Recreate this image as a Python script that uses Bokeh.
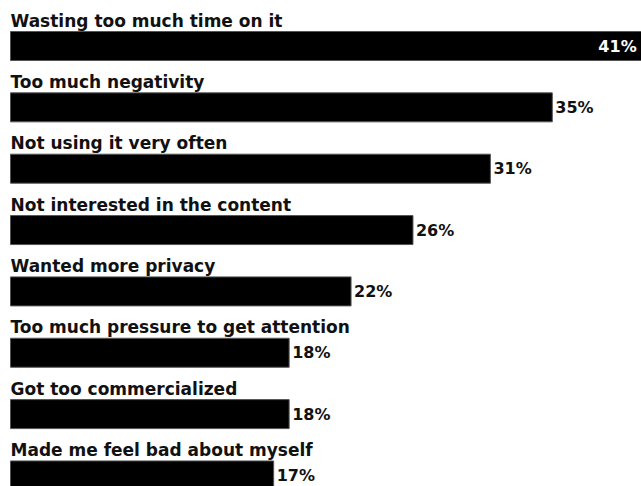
from bokeh.plotting import figure
from bokeh.models import Range1d, ColumnDataSource
from bokeh.core.properties import value
from bokeh.embed import file_html
from bokeh.resources import INLINE

categories = [
    "Wasting too much time on it",
    "Too much negativity",
    "Not using it very often",
    "Not interested in the content",
    "Wanted more privacy",
    "Too much pressure to get attention",
    "Got too commercialized",
    "Made me feel bad about myself",
]
values = [41, 35, 31, 26, 22, 18, 18, 17]
value_labels = ["41%", "35%", "31%", "26%", "22%", "18%", "18%", "17%"]

W, H = 641, 486
PX_PER_UNIT = 15.48
X0 = 10
ROW = 61.35
C0 = 45.5

idx = list(range(len(categories)))
p = figure(width=W, height=H, output_backend="svg", toolbar_location=None,
           x_range=Range1d(-X0 / PX_PER_UNIT, (W - X0) / PX_PER_UNIT),
           y_range=Range1d((H - C0) / ROW, -C0 / ROW),
           min_border=0, outline_line_color=None)
p.axis.visible = False
p.grid.visible = False
p.background_fill_color = "white"
p.border_fill_color = "white"

bar_h = 29 / ROW
src = ColumnDataSource(dict(y=idx, v=values, cat=categories, lab=value_labels,
                            ly=[i - bar_h / 2 - 11 / ROW for i in idx]))
p.hbar(y="y", right="v", left=0, height=bar_h, source=src,
       fill_color="black", line_color="#555555", line_width=1)

p.text(x=0, y="ly", text="cat", source=src, text_font=value("DejaVu Sans"),
       text_font_style="bold", text_font_size="17px", text_color="#111111",
       text_baseline="alphabetic", text_align="left")

out_src = ColumnDataSource(dict(x=[v + 3 / PX_PER_UNIT for v in values[1:]],
                                y=idx[1:], lab=value_labels[1:]))
p.text(x="x", y="y", text="lab", source=out_src, text_font=value("DejaVu Sans"),
       text_font_style="bold", text_font_size="16px", text_color="#111111",
       text_baseline="middle", text_align="left")

in_src = ColumnDataSource(dict(x=[values[0] - 0.55], y=[idx[0]], lab=[value_labels[0]]))
p.text(x="x", y="y", text="lab", source=in_src, text_font=value("DejaVu Sans"),
       text_font_style="bold", text_font_size="16px", text_color="white",
       text_baseline="middle", text_align="right")

open("out.html", "w").write(file_html(p, INLINE))
